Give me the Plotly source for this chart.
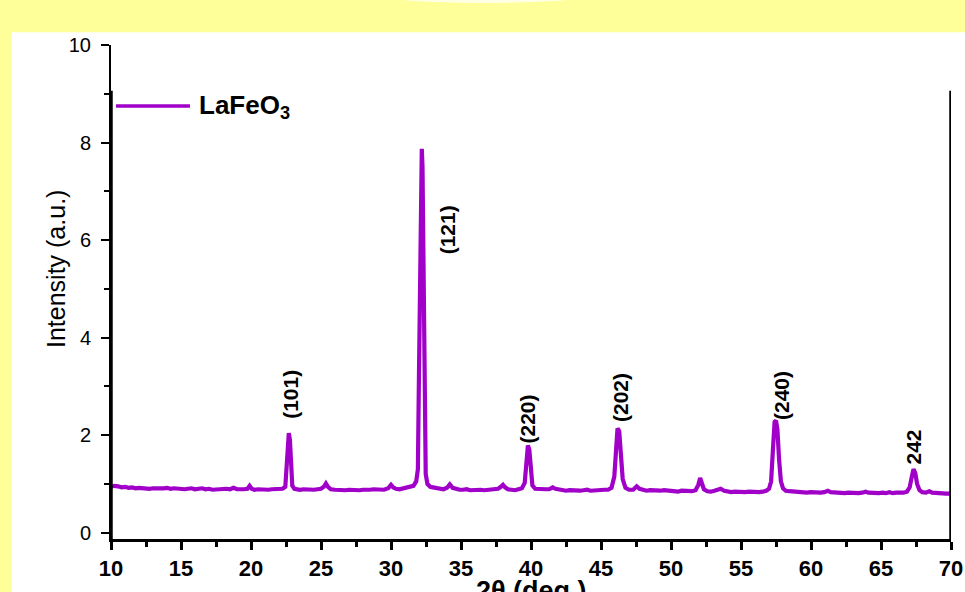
import plotly.graph_objects as go

# ---- data ----
two_theta = [
    10.0, 10.25, 10.5, 10.75, 11.0, 11.25, 11.5, 11.75, 12.0, 12.25,
    12.5, 12.75, 13.0, 13.25, 13.5, 13.75, 14.0, 14.25, 14.5, 14.75,
    15.0, 15.25, 15.5, 15.75, 16.0, 16.25, 16.5, 16.75, 17.0, 17.25,
    17.5, 17.75, 18.0, 18.25, 18.5, 18.75, 19.0, 19.25, 19.5, 19.75,
    19.9, 20.05, 20.25, 20.5, 20.75, 21.0, 21.25, 21.5, 21.75, 22.0,
    22.25, 22.45, 22.55, 22.62, 22.7, 22.78, 22.85, 22.95, 23.1, 23.3,
    23.5, 23.75, 24.0, 24.25, 24.5, 24.75, 25.0, 25.2, 25.35, 25.5,
    25.7, 26.0, 26.25, 26.5, 26.75, 27.0, 27.25, 27.5, 27.75, 28.0,
    28.25, 28.5, 28.75, 29.0, 29.25, 29.5, 29.8, 30.0, 30.15, 30.35,
    30.6, 30.85, 31.1, 31.35, 31.6, 31.8, 31.92, 32.0, 32.08, 32.15,
    32.2, 32.25, 32.32, 32.4, 32.48, 32.6, 32.8, 33.0, 33.25, 33.5,
    33.75, 34.0, 34.2, 34.4, 34.65, 34.9, 35.15, 35.4, 35.65, 35.9,
    36.15, 36.4, 36.65, 36.9, 37.15, 37.4, 37.65, 37.85, 38.0, 38.15,
    38.35, 38.6, 38.85, 39.1, 39.35, 39.55, 39.68, 39.78, 39.88, 39.98,
    40.1, 40.3, 40.55, 40.8, 41.05, 41.3, 41.55, 41.75, 42.0, 42.25,
    42.5, 42.75, 43.0, 43.25, 43.5, 43.75, 44.0, 44.25, 44.5, 44.75,
    45.0, 45.25, 45.5, 45.75, 45.95, 46.08, 46.18, 46.3, 46.42, 46.55,
    46.75, 47.0, 47.3, 47.55, 47.75, 48.0, 48.25, 48.5, 48.75, 49.0,
    49.25, 49.5, 49.75, 50.0, 50.25, 50.5, 50.75, 51.0, 51.25, 51.5,
    51.75, 51.95, 52.08, 52.2, 52.35, 52.6, 52.85, 53.1, 53.35, 53.55,
    53.8, 54.05, 54.3, 54.55, 54.8, 55.05, 55.3, 55.55, 55.8, 56.05,
    56.3, 56.55, 56.8, 57.0, 57.15, 57.28, 57.4, 57.5, 57.6, 57.72,
    57.85, 58.0, 58.2, 58.45, 58.7, 58.95, 59.2, 59.45, 59.7, 59.95,
    60.2, 60.45, 60.7, 60.95, 61.2, 61.4, 61.65, 61.9, 62.15, 62.4,
    62.65, 62.9, 63.15, 63.4, 63.65, 63.9, 64.1, 64.35, 64.6, 64.85,
    65.1, 65.35, 65.6, 65.85, 66.1, 66.35, 66.6, 66.85, 67.05, 67.2,
    67.32, 67.45, 67.58, 67.75, 67.95, 68.2, 68.45, 68.65, 68.9, 69.15,
    69.4, 69.65, 69.9, 70.0,
]
intensity = [
    0.94, 0.96, 0.95, 0.93, 0.94, 0.92, 0.93, 0.91, 0.92, 0.91,
    0.92, 0.90, 0.91, 0.91, 0.89, 0.91, 0.92, 0.90, 0.91, 0.90,
    0.91, 0.89, 0.90, 0.91, 0.89, 0.90, 0.91, 0.89, 0.90, 0.88,
    0.89, 0.90, 0.89, 0.90, 0.89, 0.92, 0.89, 0.88, 0.89, 0.90,
    0.96, 0.90, 0.88, 0.89, 0.88, 0.89, 0.88, 0.89, 0.90, 0.89,
    0.90, 0.94, 1.45, 1.98, 2.04, 1.90, 1.35, 0.96, 0.90, 0.89,
    0.88, 0.89, 0.88, 0.89, 0.88, 0.89, 0.90, 0.94, 1.01, 0.94,
    0.89, 0.88, 0.87, 0.88, 0.87, 0.88, 0.87, 0.88, 0.87, 0.88,
    0.87, 0.88, 0.89, 0.88, 0.87, 0.88, 0.91, 0.98, 0.93, 0.90,
    0.89, 0.91, 0.92, 0.93, 0.96, 1.05, 1.30, 3.30, 6.20, 7.60,
    7.87, 7.50, 5.00, 2.00, 1.20, 1.00, 0.94, 0.93, 0.91, 0.90,
    0.89, 0.92, 0.99, 0.92, 0.89, 0.88, 0.88, 0.89, 0.87, 0.88,
    0.87, 0.88, 0.87, 0.88, 0.87, 0.88, 0.90, 0.94, 0.98, 0.93,
    0.89, 0.88, 0.87, 0.89, 0.91, 1.02, 1.45, 1.79, 1.70, 1.30,
    0.97, 0.90, 0.89, 0.88, 0.89, 0.89, 0.93, 0.90, 0.88, 0.87,
    0.86, 0.87, 0.86, 0.87, 0.86, 0.87, 0.88, 0.86, 0.87, 0.88,
    0.87, 0.88, 0.88, 0.92, 1.15, 1.75, 2.14, 2.08, 1.60, 1.10,
    0.92, 0.88, 0.88, 0.95, 0.90, 0.87, 0.86, 0.87, 0.86, 0.87,
    0.86, 0.87, 0.86, 0.86, 0.85, 0.84, 0.86, 0.85, 0.86, 0.85,
    0.87, 0.98, 1.12, 1.03, 0.89, 0.85, 0.84, 0.86, 0.89, 0.90,
    0.86, 0.84, 0.83, 0.84, 0.83, 0.84, 0.83, 0.84, 0.83, 0.84,
    0.83, 0.84, 0.86, 0.90, 1.05, 1.70, 2.27, 2.30, 2.12, 1.50,
    1.05, 0.91, 0.86, 0.85, 0.84, 0.83, 0.84, 0.83, 0.82, 0.83,
    0.82, 0.83, 0.82, 0.83, 0.86, 0.83, 0.82, 0.81, 0.82, 0.81,
    0.82, 0.81, 0.82, 0.81, 0.82, 0.84, 0.82, 0.81, 0.82, 0.81,
    0.82, 0.81, 0.83, 0.81, 0.82, 0.81, 0.82, 0.84, 0.93, 1.15,
    1.30, 1.22, 1.00, 0.87, 0.83, 0.82, 0.85, 0.82, 0.81, 0.80,
    0.81, 0.80, 0.80, 0.80,
]
series_name = "LaFeO<sub>3</sub>"

peak_labels = ["(101)", "(121)", "(220)", "(202)", "(240)", "242"]
peak_label_x = [22.8, 34.0, 39.75, 46.35, 57.85, 67.3]
peak_label_y = [2.83, 6.2, 2.33, 2.78, 2.82, 1.75]

x_ticks = [10, 15, 20, 25, 30, 35, 40, 45, 50, 55, 60, 65, 70]
y_ticks = [0, 2, 4, 6, 8, 10]

# ---- style ----
PURPLE = "#A000C8"
YELLOW = "#FFFF99"
FONT = "Liberation Sans, Arial, sans-serif"

fig = go.Figure()
fig.add_trace(go.Scatter(
    x=two_theta, y=intensity, mode="lines", name=series_name,
    line=dict(color=PURPLE, width=4.2), showlegend=False,
))

for txt, px_, py_ in zip(peak_labels, peak_label_x, peak_label_y):
    fig.add_annotation(x=px_, y=py_, xref="x", yref="y", text=f"<b>{txt}</b>",
                       textangle=-90, showarrow=False,
                       font=dict(family=FONT, size=21, color="black"))

# white panel + faint arc at top
fig.add_shape(type="rect", xref="paper", yref="paper", x0=-0.118, x1=1.03,
              y0=-0.12, y1=1.026, fillcolor="white", line=dict(width=0), layer="below")
fig.add_shape(type="circle", xref="paper", yref="paper", x0=0.314, x1=0.576,
              y0=1.085, y1=1.121, fillcolor="#FFFFE4", line=dict(width=0), layer="below")

# right border (partial) and thick left segment
fig.add_shape(type="line", xref="x", yref="y", x0=70, x1=70, y0=-0.13, y1=9.06,
              line=dict(color="black", width=3.5))
fig.add_shape(type="line", xref="x", yref="y", x0=10, x1=10, y0=-0.13, y1=9.06,
              line=dict(color="black", width=3.5))

# legend (drawn)
fig.add_shape(type="line", xref="paper", yref="paper", x0=0.006, x1=0.094,
              y0=0.8765, y1=0.8765, line=dict(color=PURPLE, width=3.5))
fig.add_annotation(xref="paper", yref="paper", x=0.102, y=0.8765, xanchor="left",
                   yanchor="middle", showarrow=False, text=f"<b>{series_name}</b>",
                   font=dict(family=FONT, size=26, color="black"))

# axis titles
fig.add_annotation(xref="paper", yref="paper", x=-0.0845, y=0.5466, textangle=-90,
                   showarrow=False, text="Intensity (a.u.)",
                   font=dict(family=FONT, size=25, color="black"))
fig.add_annotation(xref="paper", yref="paper", x=0.5, y=-0.071, yanchor="top",
                   showarrow=False, text="<b>2θ (deg.)</b>",
                   font=dict(family=FONT, size=27, color="black"))

fig.update_layout(
    width=965, height=592, autosize=False,
    paper_bgcolor=YELLOW, plot_bgcolor="white",
    margin=dict(l=111, r=14, t=45, b=53),
    font=dict(family=FONT, color="black"),
    showlegend=False,
)
fig.update_xaxes(
    range=[10, 70], tickvals=x_ticks, ticks="outside", ticklen=8, tickwidth=2.5,
    tickcolor="black", showline=True, linecolor="black", linewidth=3,
    showgrid=False, zeroline=False, automargin=False,
    tickfont=dict(family=FONT, size=22, color="black", weight="bold"),
    minor=dict(dtick=2.5, ticks="outside", ticklen=5, tickwidth=2.5, tickcolor="black"),
)
fig.update_yaxes(
    range=[-0.13, 10], tickvals=y_ticks, ticks="outside", ticklen=8, tickwidth=1.5,
    tickcolor="black", showline=True, linecolor="black", linewidth=2,
    showgrid=False, zeroline=False, ticklabelstandoff=6, automargin=False,
    tickfont=dict(family=FONT, size=20, color="black"),
    minor=dict(dtick=1, ticks="outside", ticklen=5, tickwidth=1.5, tickcolor="black"),
)

fig.write_html(
    "out.html",
    config={"displayModeBar": False},
    post_script="document.body.style.margin='0';document.body.style.overflow='hidden';",
)
